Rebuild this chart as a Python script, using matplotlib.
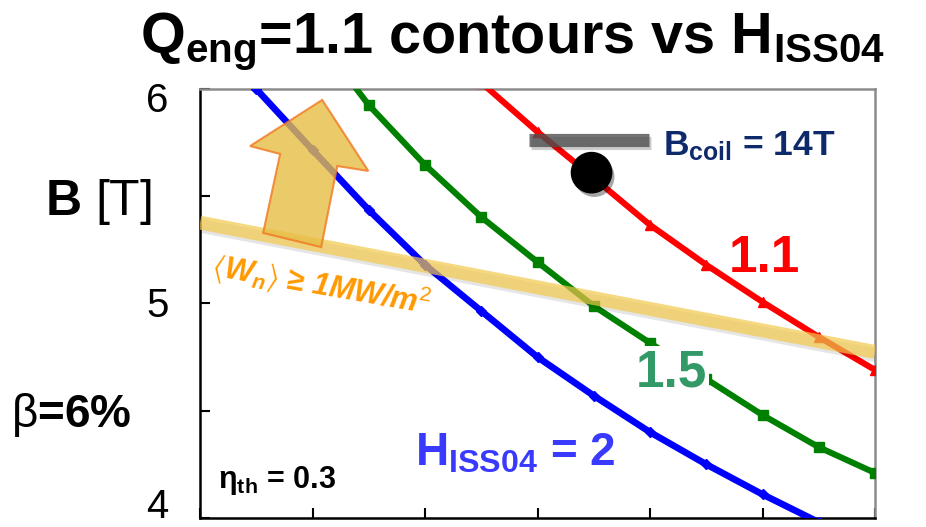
import matplotlib
matplotlib.use("Agg")
import matplotlib.pyplot as plt
import matplotlib.patheffects as pe
from matplotlib.patches import Polygon

plt.rcParams['font.family'] = ['Liberation Sans', 'DejaVu Sans']
plt.rcParams['mathtext.fontset'] = 'custom'
plt.rcParams['mathtext.rm'] = 'Liberation Sans'
plt.rcParams['mathtext.bf'] = 'Liberation Sans:bold'
plt.rcParams['mathtext.it'] = 'Liberation Sans:italic:bold'
plt.rcParams['mathtext.fallback'] = 'stixsans'

# contour data (B in tesla), x in tick units
x_h2 = [0.5, 1.0, 1.5, 2.0, 2.5, 3.0, 3.5, 4.0, 4.5, 5.0, 5.5]
b_h2 = [6.00, 5.716, 5.436, 5.18, 4.965, 4.75, 4.57, 4.40, 4.25, 4.11, 3.98]

x_h15 = [1.0, 1.5, 2.0, 2.5, 3.0, 3.5, 4.0, 4.5, 5.0, 5.5, 6.0]
b_h15 = [6.27, 5.925, 5.646, 5.403, 5.193, 4.988, 4.816, 4.648, 4.48, 4.33, 4.21]

x_h11 = [2.5, 3.0, 3.5, 4.0, 4.5, 5.0, 5.5, 6.0]
b_h11 = [6.03, 5.80, 5.585, 5.366, 5.18, 5.007, 4.844, 4.69]

# wall load limit <Wn> = 1 MW/m2
wall_x = [0.0, 6.0]
wall_b = [5.377, 4.774]

# coil limit and design point
coil_x = [2.92, 3.99]
coil_b = [5.76, 5.76]
design_x = [3.48]
design_b = [5.61]

ytick_vals = [4, 5, 6]
ytick_text = ['4', '5', '6']
# the labels sit a little off their ticks in the original
ytick_text_pos = [4.051, 4.988, 5.946]

fig = plt.figure(figsize=(9.26, 5.27), dpi=100)
ax = fig.add_axes([0.216, 0.0171, 0.729, 0.814])

ax.plot(x_h2, b_h2, color='#0000ff', lw=4.8, marker='D', ms=5.5, zorder=3)
ax.plot(x_h15, b_h15, color='#008000', lw=4.4, marker='s', ms=6.5, zorder=3)
ax.plot(x_h11, b_h11, color='#ff0000', lw=4.4, marker='^', ms=7.5, zorder=3)

ax.plot(wall_x, wall_b, color='#f2c94c', alpha=0.7, lw=10,
        solid_capstyle='butt', zorder=4,
        path_effects=[pe.SimpleLineShadow(offset=(1.5, -2.5), alpha=0.1), pe.Normal()])
ax.plot(coil_x, coil_b, color='#505050', alpha=0.8, lw=9.5,
        solid_capstyle='butt', zorder=4,
        path_effects=[pe.SimpleLineShadow(offset=(1.5, -2), alpha=0.2), pe.Normal()])
ax.plot(design_x, design_b, 'o', color='black', ms=29, zorder=6,
        path_effects=[pe.SimplePatchShadow(offset=(2, -3), alpha=0.35), pe.Normal()])

# fat arrow pointing away from the wall load line
arrow = Polygon([(1.086, 5.949), (0.445, 5.734), (0.712, 5.697), (0.561, 5.329),
                 (1.077, 5.263), (1.220, 5.641), (1.496, 5.618)],
                closed=True, facecolor='#e6bd45', alpha=0.8,
                edgecolor='#f07820', lw=1.5, zorder=5)
ax.add_patch(arrow)

ax.text(0.089, 5.133, '$\\langle$W$_{\\mathit{n}}$$\\rangle$ ≥ 1MW/m$^{\\mathit{2}}$',
        color='#ff9900', fontsize=22, fontweight='bold', fontstyle='italic',
        rotation=-10, rotation_mode='anchor', ha='left', va='baseline', zorder=6)

ax.text(4.114, 5.692, 'B$_{\\mathbf{coil}}$ = 14T', color='#0f2a6b', fontsize=25.5,
        fontweight='bold', ha='left', va='baseline', zorder=6)
ax.text(4.70, 5.147, '1.1', color='#ff0000', fontsize=37, fontweight='bold',
        ha='left', va='baseline', zorder=6)
ax.text(3.87, 4.611, '1.5', color='#339966', fontsize=37, fontweight='bold',
        ha='left', va='baseline', zorder=6,
        bbox=dict(facecolor='white', edgecolor='none', pad=2))
ax.text(1.915, 4.247, 'H$_{\\mathbf{ISS04}}$ = 2', color='#3a3aff', fontsize=33,
        fontweight='bold', ha='left', va='baseline', zorder=6)
ax.text(0.16, 4.14, '$\\mathbf{η}_{\\mathbf{th}}$ = 0.3', color='black', fontsize=22,
        fontweight='bold', ha='left', va='baseline', zorder=6)

ax.set_xlim(0, 6)
ax.set_ylim(4, 6)
ax.set_xticks(range(7))
ax.set_xticklabels([])
ax.set_yticks(ytick_vals)
ax.set_yticklabels([])
ax.set_yticks([4.5, 5.5], minor=True)
ax.tick_params(axis='both', which='both', direction='in', length=7, width=1.5)
for val, lab in zip(ytick_text_pos, ytick_text):
    ax.text(-0.047, val, lab, transform=ax.get_yaxis_transform(), fontsize=29,
            ha='right', va='center', clip_on=False)

for side in ['left', 'bottom']:
    ax.spines[side].set_color('black')
    ax.spines[side].set_linewidth(1.8)
for side in ['top', 'right']:
    ax.spines[side].set_color('#8c8c8c')
    ax.spines[side].set_linewidth(1.8)

fig.text(0.553, 0.899, 'Q$_{\\mathbf{eng}}$=1.1 contours vs H$_{\\mathbf{ISS04}}$',
         fontsize=41.5, fontweight='bold', ha='center', va='baseline')
fig.text(0.0486, 0.617, '$\\mathbf{B}$ [T]', fontsize=36, ha='left', va='center')
fig.text(0.012, 0.19, '$\\mathrm{β}$=6%', fontsize=33, fontweight='bold',
         ha='left', va='baseline')

fig.savefig('out.png', dpi=100)
